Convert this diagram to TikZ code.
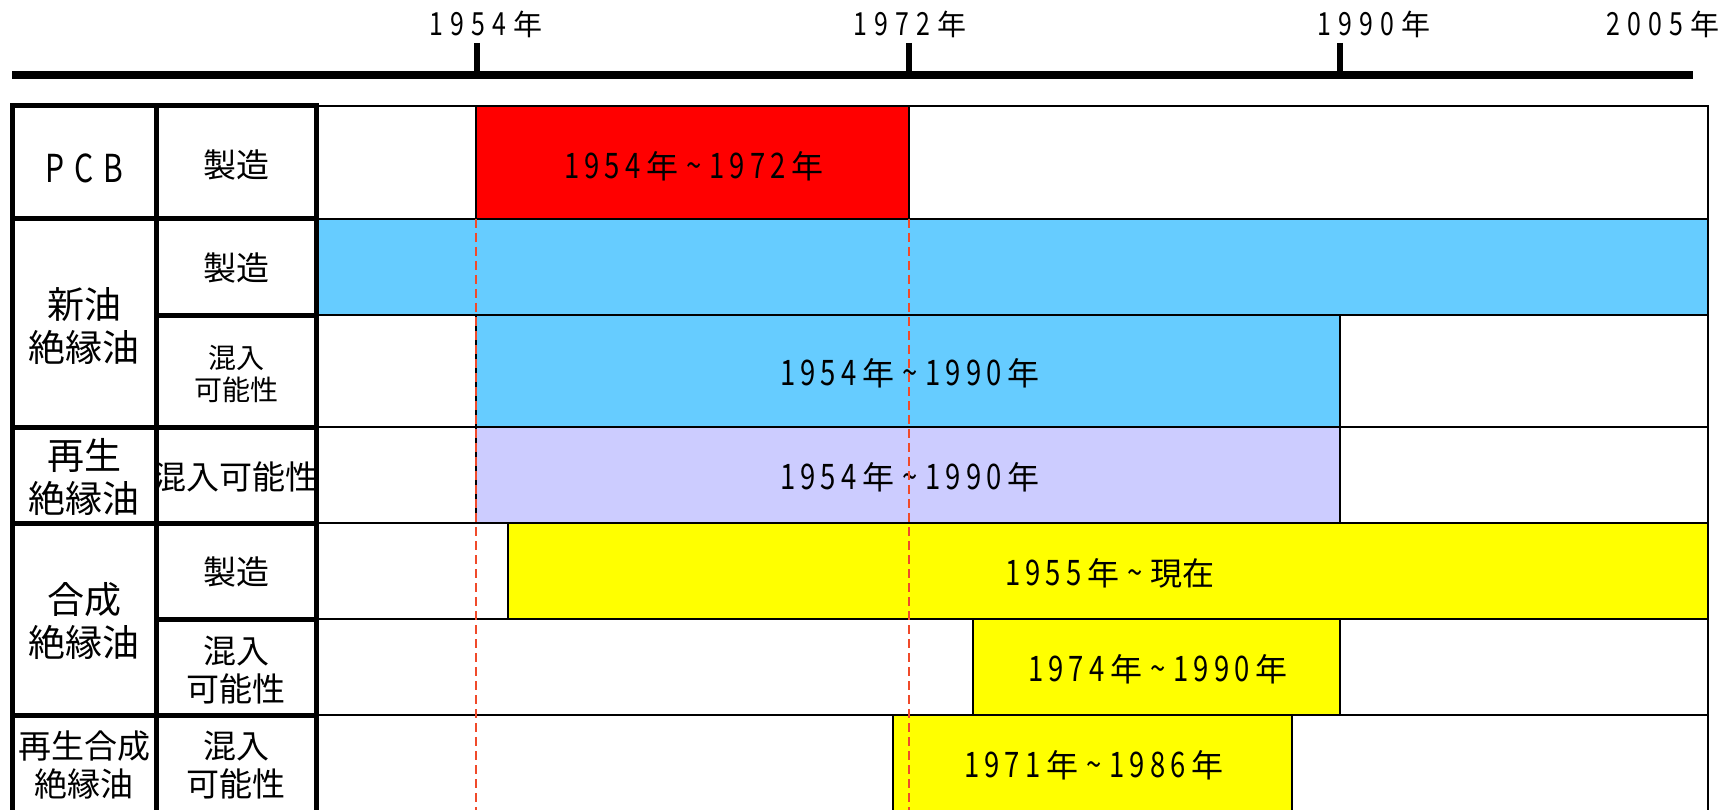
\documentclass[tikz,border=0pt]{standalone}
\usepackage{fontspec}
\setmainfont{Noto Sans CJK JP}
\newfontfamily\nf[FakeStretch=0.78,Scale=1.1]{Noto Sans CJK JP}
\definecolor{sky}{HTML}{66CCFF}
\definecolor{lav}{HTML}{CCCCFF}
\definecolor{bred}{HTML}{FF0000}
\definecolor{byel}{HTML}{FFFF00}
\definecolor{dashred}{HTML}{F04A2A}
\newlength\lspk
\def\lspend{LSPEND}
\newcommand\lsp[2]{\setlength\lspk{#1}\lspfirst#2\lspend}
\def\lspfirst#1{#1\lsprest}
\def\lsprest#1{\ifx#1\lspend\else\kern\lspk#1\expandafter\lsprest\fi}
% condensed, letter-spaced digits
\newcommand\dgs[2]{{\nf\lsp{#1}{#2}}}
\newcommand\tld{\kern8pt{\nf\char"7E}\kern8pt}
\tikzset{
  rowbox/.style={draw=black,fill=white,line width=2pt},
  bar/.style={draw=black,line width=2pt},
  gtxt/.style={inner sep=0pt,font=\fontsize{32}{38}\selectfont},
  ylab/.style={inner sep=0pt,font=\fontsize{29}{36}\selectfont},
  lab/.style={inner sep=0pt,align=center,font=\fontsize{33}{38}\selectfont},
  biglab/.style={inner sep=0pt,align=center,font=\fontsize{37}{43}\selectfont},
  smalllab/.style={inner sep=0pt,align=center,font=\fontsize{28}{32}\selectfont},
  gridline/.style={line width=5pt,line cap=rect},
  dashl/.style={draw=dashred,line width=2.6pt,dash pattern=on 9pt off 5pt},
  axis/.style={line width=8pt},
  tick/.style={line width=6pt}
}
\begin{document}
\begin{tikzpicture}[x=1pt,y=-1pt]
\useasboundingbox (0,0) rectangle (1729,810);
\fill[white] (0,0) rectangle (1729,810);

% timeline
\coordinate (axL) at (12,75);
\coordinate (axR) at (1693,75);
\draw[axis] (axL) -- (axR);
\coordinate (k1t) at (477,43); \coordinate (k1b) at (477,75);
\coordinate (k2t) at (909,43); \coordinate (k2b) at (909,75);
\coordinate (k3t) at (1340,43); \coordinate (k3b) at (1340,75);
\draw[tick] (k1t) -- (k1b);
\draw[tick] (k2t) -- (k2b);
\draw[tick] (k3t) -- (k3b);
\node[ylab] (y1954) at (486,24) {\dgs{7pt}{1954}\kern7pt年};
\node[ylab] (y1972) at (910,24) {\dgs{7pt}{1972}\kern7pt年};
\node[ylab] (y1990) at (1374,24) {\dgs{7pt}{1990}\kern7pt年};
\node[ylab] (y2005) at (1663,24) {\dgs{7pt}{2005}\kern7pt年};

% gantt rows
\draw[rowbox] (316,106) rectangle (1708,219);
\draw[rowbox] (316,219) rectangle (1708,315);
\draw[rowbox] (316,315) rectangle (1708,427);
\draw[rowbox] (316,427) rectangle (1708,523);
\draw[rowbox] (316,523) rectangle (1708,619);
\draw[rowbox] (316,619) rectangle (1708,715);
\draw[rowbox] (316,715) rectangle (1708,815);

% bars
\draw[bar,fill=bred] (476,106) rectangle (909,219);
\draw[bar,fill=sky] (316,219) rectangle (1708,315);
\draw[bar,fill=sky] (476,315) rectangle (1340,427);
\draw[bar,fill=lav] (476,427) rectangle (1340,523);
\draw[bar,fill=byel] (508,523) rectangle (1708,619);
\draw[bar,fill=byel] (973,619) rectangle (1340,715);
\draw[bar,fill=byel] (893,715) rectangle (1292,815);

% bar texts
\node[gtxt] (t1) at (694,166) {\dgs{5pt}{1954}\kern6pt年\tld\dgs{5pt}{1972}\kern6pt年};
\node[gtxt] (t2) at (910,373) {\dgs{5pt}{1954}\kern6pt年\tld\dgs{5pt}{1990}\kern6pt年};
\node[gtxt] (t3) at (910,477) {\dgs{5pt}{1954}\kern6pt年\tld\dgs{5pt}{1990}\kern6pt年};
\node[gtxt] (t4) at (1110,573) {\dgs{5pt}{1955}\kern6pt年\tld 現在};
\node[gtxt] (t5) at (1158,669) {\dgs{5pt}{1974}\kern6pt年\tld\dgs{5pt}{1990}\kern6pt年};
\node[gtxt] (t6) at (1094,765) {\dgs{5pt}{1971}\kern6pt年\tld\dgs{5pt}{1986}\kern6pt年};

% dashed guide lines
\coordinate (d1t) at (476,219); \coordinate (d1b) at (476,812);
\coordinate (d2t) at (909,219); \coordinate (d2b) at (909,812);
\draw[dashl] (d1t) -- (d1b);
\draw[dashl] (d2t) -- (d2b);

% left label table
\fill[white] (12,106) rectangle (316,812);
\node[inner sep=0pt,font=\fontsize{35}{40}\selectfont] (pcb) at (84,168) {\dgs{10pt}{PCB}};
\node[lab] (m1) at (236,165) {製造};
\node[biglab] (shin) at (84,326) {新油\\絶縁油};
\node[lab] (m2) at (236,268) {製造};
\node[smalllab] (k1) at (236,374) {混入\\可能性};
\node[biglab] (sai) at (84,477) {再生\\絶縁油};
\node[lab] (k2) at (236,477) {混入可能性};
\node[biglab] (gou) at (84,621) {合成\\絶縁油};
\node[lab] (m3) at (236,572) {製造};
\node[lab] (k3) at (236,670) {混入\\可能性};
\node[lab] (sg) at (84,765) {再生合成\\絶縁油};
\node[lab] (k4) at (236,765) {混入\\可能性};

% thick grid
\draw[gridline] (12.5,106) -- (12.5,815);
\draw[gridline] (156,106) -- (156,815);
\draw[gridline] (316,106) -- (316,815);
\draw[gridline] (12.5,106) -- (316,106);
\draw[gridline] (12.5,219) -- (316,219);
\draw[gridline] (12.5,427) -- (316,427);
\draw[gridline] (12.5,523) -- (316,523);
\draw[gridline] (12.5,715) -- (316,715);
\draw[gridline] (156,315) -- (316,315);
\draw[gridline] (156,619) -- (316,619);
\end{tikzpicture}
\end{document}
